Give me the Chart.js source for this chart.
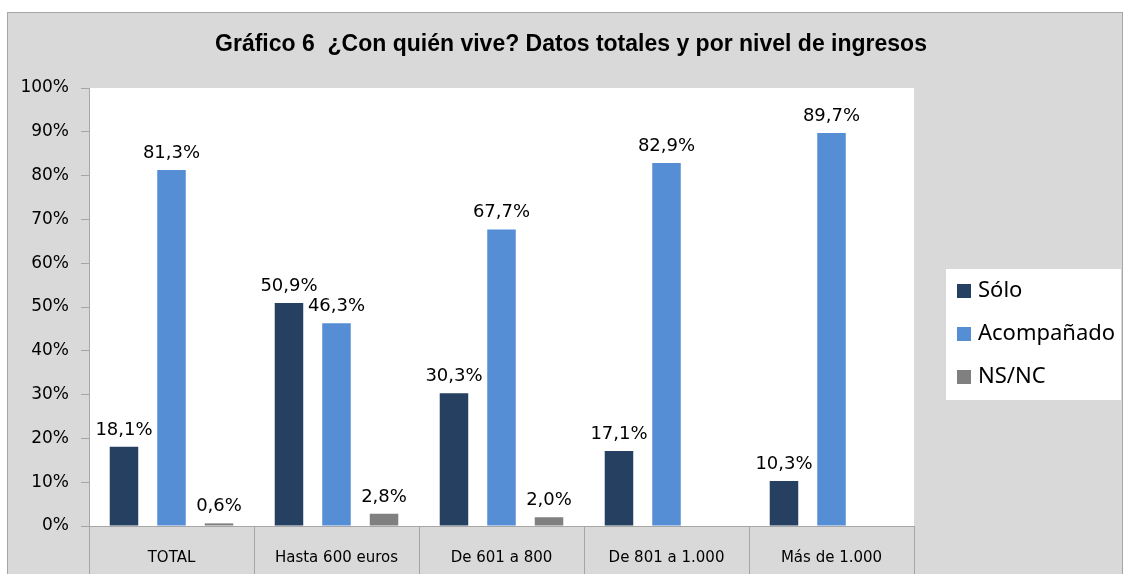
<!DOCTYPE html>
<html>
<head>
<meta charset="utf-8">
<script src="https://cdn.jsdelivr.net/npm/chart.js@4.4.1/dist/chart.umd.min.js"></script>
<style>
  html, body { margin: 0; padding: 0; background: #fff; }
  #wrap { width: 1126px; height: 574px; position: relative; }
</style>
</head>
<body>
<div id="wrap"><canvas id="grafico6"></canvas></div>
<script>
(function(){
  'use strict';

  // ---- Datos ----
  const titulo = 'Gráfico 6  ¿Con quién vive? Datos totales y por nivel de ingresos';
  const categorias = ['TOTAL', 'Hasta 600 euros', 'De 601 a 800', 'De 801 a 1.000', 'Más de 1.000'];
  const solo       = [18.1, 50.9, 30.3, 17.1, 10.3];
  const acompanado = [81.3, 46.3, 67.7, 82.9, 89.7];
  const nsnc       = [0.6, 2.8, 2.0, null, null];   // sin dato en los dos últimos tramos
  const yTicks     = [0, 10, 20, 30, 40, 50, 60, 70, 80, 90, 100];

  const GRIS_FONDO = '#d9d9d9';
  const GRIS_LINEA = '#a6a6a6';
  const fmtPct = (v) => v.toFixed(1).replace('.', ',') + '%';

  // Fondo gris, marco y área de trazado blanca
  const fondo = {
    id: 'fondo',
    beforeDraw(chart){
      const { ctx, width, height, chartArea: a } = chart;
      ctx.save();
      ctx.fillStyle = '#fff';
      ctx.fillRect(0, 0, width, height);
      ctx.fillStyle = GRIS_FONDO;
      ctx.fillRect(7, 12, width - 10, height - 12);
      ctx.strokeStyle = GRIS_LINEA;
      ctx.lineWidth = 1;
      ctx.strokeRect(7.5, 12.5, width - 11, height);
      ctx.fillStyle = '#fff';
      ctx.fillRect(a.left, a.top, a.right - a.left, a.bottom - a.top);
      // título
      ctx.fillStyle = '#000';
      ctx.font = 'bold 23px "Liberation Sans", sans-serif';
      ctx.textAlign = 'center';
      ctx.textBaseline = 'middle';
      ctx.fillText(titulo, 571, 45);
      ctx.restore();
    }
  };

  // Etiquetas de valor encima de cada barra
  const etiquetas = {
    id: 'etiquetas',
    afterDatasetsDraw(chart){
      const { ctx } = chart;
      ctx.save();
      ctx.fillStyle = '#000';
      ctx.font = '18px "DejaVu Sans", sans-serif';
      ctx.textAlign = 'center';
      ctx.textBaseline = 'alphabetic';
      chart.data.datasets.forEach((ds, i) => {
        const meta = chart.getDatasetMeta(i);
        meta.data.forEach((bar, j) => {
          const v = ds.data[j];
          if (v === null || v === undefined) return;
          ctx.fillText(fmtPct(v), bar.x, bar.y - 12);
        });
      });
      ctx.restore();
    }
  };

  // Leyenda en caja blanca a la derecha
  const leyenda = {
    id: 'leyenda',
    afterDraw(chart){
      const { ctx } = chart;
      const bx = 946, by = 269, bw = 175, bh = 131;
      ctx.save();
      ctx.fillStyle = '#fff';
      ctx.fillRect(bx, by, bw, bh);
      ctx.font = '22px "Noto Sans", sans-serif';
      ctx.textAlign = 'left';
      ctx.textBaseline = 'middle';
      chart.data.datasets.forEach((ds, i) => {
        const cy = by + 22 + i * 43;
        ctx.fillStyle = ds.backgroundColor;
        ctx.fillRect(bx + 11, cy - 7, 14, 14);
        ctx.fillStyle = '#000';
        ctx.fillText(ds.label, bx + 32, cy);
      });
      ctx.restore();
    }
  };

  const canvas = document.getElementById('grafico6');
  new Chart(canvas.getContext('2d'), {
    type: 'bar',
    data: {
      labels: categorias,
      datasets: [
        { label: 'Sólo',       data: solo,       backgroundColor: '#254061' },
        { label: 'Acompañado', data: acompanado, backgroundColor: '#558ed5' },
        { label: 'NS/NC',      data: nsnc,       backgroundColor: '#808080' }
      ]
    },
    options: {
      responsive: true,
      maintainAspectRatio: false,
      animation: false,
      devicePixelRatio: 1,
      categoryPercentage: 0.864,
      barPercentage: 0.6,
      layout: { padding: { left: 0, right: 212, top: 88, bottom: 0 } },
      plugins: {
        legend: { display: false },
        title: { display: false },
        tooltip: { enabled: false }
      },
      scales: {
        y: {
          min: 0, max: 100,
          afterBuildTicks: (s) => { s.ticks = yTicks.map(v => ({ value: v })); },
          afterFit: (s) => { s.width = 89; },
          ticks: {
            callback: (v) => v + '%',
            color: '#000',
            padding: 12,
            font: { family: '"DejaVu Sans", sans-serif', size: 17 }
          },
          grid: { drawOnChartArea: false, tickLength: 8, color: GRIS_LINEA },
          border: { color: GRIS_LINEA }
        },
        x: {
          afterFit: (s) => { s.height = 48; },
          ticks: {
            color: '#000',
            padding: -25,
            maxRotation: 0,
            autoSkip: false,
            font: { family: '"DejaVu Sans", sans-serif', size: 15 }
          },
          grid: { offset: true, drawOnChartArea: false, tickLength: 48, color: GRIS_LINEA },
          border: { color: GRIS_LINEA }
        }
      }
    },
    plugins: [fondo, etiquetas, leyenda]
  });
})();
</script>
</body>
</html>
